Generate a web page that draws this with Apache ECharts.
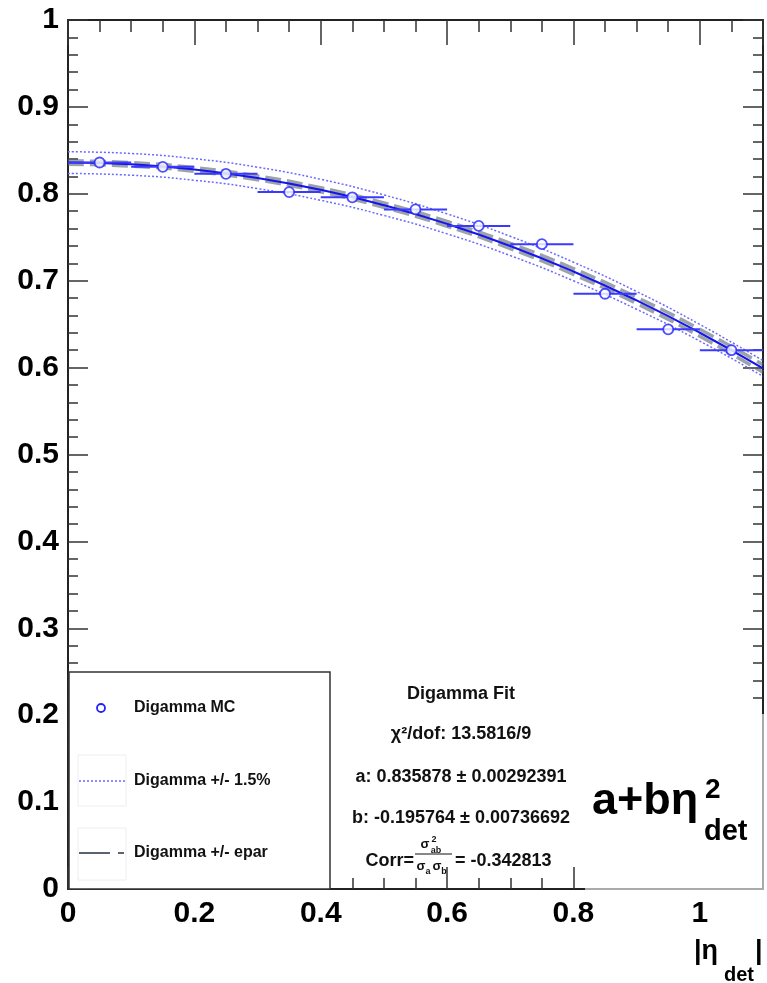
<!DOCTYPE html>
<html>
<head>
<meta charset="utf-8">
<script src="https://cdn.jsdelivr.net/npm/echarts@6/dist/echarts.min.js"></script>
<style>
html, body { margin: 0; padding: 0; background: #fff; }
#main { width: 767px; height: 983px; }
</style>
</head>
<body>
<div id="main"></div>
<script>
// measured points (Digamma MC), bin centres in |eta_det|
var etaBins = [0.05, 0.15, 0.25, 0.35, 0.45, 0.55, 0.65, 0.75, 0.85, 0.95, 1.05];
var mcResponse = [0.836, 0.831, 0.823, 0.802, 0.796, 0.782, 0.763, 0.742, 0.685, 0.644, 0.620];
var binHalfWidth = [0.05, 0.05, 0.05, 0.05, 0.05, 0.05, 0.05, 0.05, 0.05, 0.05, 0.05];

// fit curves at these eta values
var etaGrid = [0, 0.1, 0.2, 0.3, 0.4, 0.5, 0.6, 0.7, 0.8, 0.9, 1.0, 1.1];
var fitCurve = [0.8359, 0.8339, 0.8280, 0.8183, 0.8046, 0.7869, 0.7654, 0.7400, 0.7106, 0.6773, 0.6401, 0.5990];
var fitUp15 = [0.8484, 0.8464, 0.8404, 0.8306, 0.8167, 0.7987, 0.7769, 0.7511, 0.7213, 0.6875, 0.6497, 0.6080];
var fitDn15 = [0.8234, 0.8214, 0.8156, 0.8060, 0.7925, 0.7751, 0.7539, 0.7289, 0.6999, 0.6671, 0.6305, 0.5900];
var fitUpEpar = [0.8379, 0.8359, 0.8301, 0.8205, 0.8069, 0.7894, 0.7681, 0.7430, 0.7139, 0.6809, 0.6441, 0.6034];
var fitDnEpar = [0.8339, 0.8319, 0.8259, 0.8161, 0.8023, 0.7844, 0.7627, 0.7370, 0.7073, 0.6737, 0.6361, 0.5946];

var legendNames = ['Digamma MC', 'Digamma +/- 1.5%', 'Digamma +/- epar'];
var fitLines = ['Digamma Fit', 'χ²/dof: 13.5816/9', 'a: 0.835878 ± 0.00292391', 'b: -0.195764 ± 0.00736692'];
var corrValue = '= -0.342813';

var FONT = '"Liberation Sans", Arial, sans-serif';

function pairs(xs, ys) {
    var out = [];
    for (var i = 0; i < xs.length; i++) out.push([xs[i], ys[i]]);
    return out;
}
var errData = [];
for (var i = 0; i < etaBins.length; i++) errData.push([etaBins[i], mcResponse[i], binHalfWidth[i]]);

// grid 0 carries the major ticks + labels, grid 1 (same rect) the minor ticks
function xAx(grid, pos, interval, len, withLabel) {
    return {
        gridIndex: grid, type: 'value', position: pos, min: 0, max: 1.1, interval: interval,
        axisLine: { show: grid === 0, onZero: false, lineStyle: { color: '#222', width: 2 } },
        axisTick: { inside: true, length: len, lineStyle: { color: '#333', width: 1.5 } },
        axisLabel: { show: withLabel, showMaxLabel: false, margin: 10, fontSize: 30, fontWeight: 'bold', color: '#000', fontFamily: FONT },
        splitLine: { show: false }
    };
}
function yAx(grid, pos, interval, len, withLabel) {
    return {
        gridIndex: grid, type: 'value', position: pos, min: 0, max: 1, interval: interval,
        axisLine: { show: grid === 0, onZero: false, lineStyle: { color: '#222', width: 2 } },
        axisTick: { inside: true, length: len, lineStyle: { color: '#333', width: 1.5 } },
        axisLabel: { show: withLabel, margin: 9, fontSize: 30, fontWeight: 'bold', color: '#000', fontFamily: FONT },
        splitLine: { show: false }
    };
}

var chart = echarts.init(document.getElementById('main'));

var gfx = [];
// legend box
gfx.push({ type: 'rect', z: 100, shape: { x: 69, y: 672, width: 261, height: 217 }, style: { fill: '#fff', stroke: '#333', lineWidth: 1.5 } });
gfx.push({ type: 'circle', z: 101, shape: { cx: 101, cy: 708, r: 4 }, style: { fill: '#fff', stroke: '#2222ff', lineWidth: 1.8 } });
gfx.push({ type: 'rect', z: 101, shape: { x: 78, y: 755, width: 48, height: 51 }, style: { fill: 'none', stroke: '#eee', lineWidth: 1 } });
gfx.push({ type: 'line', z: 101, shape: { x1: 79, y1: 781, x2: 125, y2: 781 }, style: { stroke: '#6a6aff', lineWidth: 1.5, lineDash: [2, 2] } });
gfx.push({ type: 'rect', z: 101, shape: { x: 78, y: 828, width: 48, height: 52 }, style: { fill: 'none', stroke: '#eee', lineWidth: 1 } });
gfx.push({ type: 'line', z: 101, shape: { x1: 79, y1: 853, x2: 124, y2: 853 }, style: { stroke: '#5a646e', lineWidth: 2, lineDash: [31, 8] } });
var legY = [708, 781, 853];
for (var k = 0; k < legendNames.length; k++) {
    gfx.push({ type: 'text', z: 101, x: 134, y: legY[k], style: { text: legendNames[k], font: 'bold 16px ' + FONT, fill: '#111', verticalAlign: 'middle' } });
}
// fit summary
var fitY = [694, 734, 777, 818];
for (var k = 0; k < fitLines.length; k++) {
    gfx.push({ type: 'text', z: 101, x: 461, y: fitY[k], style: { text: fitLines[k], font: 'bold 18px ' + FONT, fill: '#111', align: 'center', verticalAlign: 'middle' } });
}
gfx.push({ type: 'text', z: 101, x: 414, y: 861, style: { text: 'Corr=', font: 'bold 18px ' + FONT, fill: '#111', align: 'right', verticalAlign: 'middle' } });
gfx.push({ type: 'text', z: 101, x: 425, y: 844, style: { text: 'σ', font: 'bold 13px ' + FONT, fill: '#111', align: 'center', verticalAlign: 'middle' } });
gfx.push({ type: 'text', z: 101, x: 434, y: 840, style: { text: '2', font: 'bold 9px ' + FONT, fill: '#111', align: 'center', verticalAlign: 'middle' } });
gfx.push({ type: 'text', z: 101, x: 436, y: 851, style: { text: 'ab', font: 'bold 9px ' + FONT, fill: '#111', align: 'center', verticalAlign: 'middle' } });
gfx.push({ type: 'line', z: 101, shape: { x1: 415, y1: 854, x2: 452, y2: 854 }, style: { stroke: '#111', lineWidth: 1 } });
gfx.push({ type: 'text', z: 101, x: 421, y: 866, style: { text: 'σ', font: 'bold 13px ' + FONT, fill: '#111', align: 'center', verticalAlign: 'middle' } });
gfx.push({ type: 'text', z: 101, x: 428, y: 872, style: { text: 'a', font: 'bold 9px ' + FONT, fill: '#111', align: 'center', verticalAlign: 'middle' } });
gfx.push({ type: 'text', z: 101, x: 437, y: 866, style: { text: 'σ', font: 'bold 13px ' + FONT, fill: '#111', align: 'center', verticalAlign: 'middle' } });
gfx.push({ type: 'text', z: 101, x: 444, y: 872, style: { text: 'b', font: 'bold 9px ' + FONT, fill: '#111', align: 'center', verticalAlign: 'middle' } });
gfx.push({ type: 'text', z: 101, x: 455, y: 861, style: { text: corrValue, font: 'bold 18px ' + FONT, fill: '#111', verticalAlign: 'middle' } });
// formula box
gfx.push({ type: 'rect', z: 100, shape: { x: 585, y: 714, width: 177, height: 174 }, style: { fill: '#fff' } });
gfx.push({ type: 'polyline', z: 101, shape: { points: [[763, 714], [763, 889], [585, 889]] }, style: { stroke: '#aaa', lineWidth: 2, fill: 'none' } });
gfx.push({ type: 'text', z: 101, x: 592, y: 802, style: { text: 'a+bη', font: 'bold 45px ' + FONT, fill: '#000', verticalAlign: 'middle' } });
gfx.push({ type: 'text', z: 101, x: 705, y: 790, style: { text: '2', font: 'bold 28px ' + FONT, fill: '#000', verticalAlign: 'middle' } });
gfx.push({ type: 'text', z: 101, x: 704, y: 832, style: { text: 'det', font: 'bold 29px ' + FONT, fill: '#000', verticalAlign: 'middle' } });
// axis title |eta_det|
gfx.push({ type: 'text', z: 101, x: 694, y: 952, style: { text: '|η', font: 'bold 27px ' + FONT, fill: '#000', verticalAlign: 'middle' } });
gfx.push({ type: 'text', z: 101, x: 724, y: 975, style: { text: 'det', font: 'bold 20px ' + FONT, fill: '#000', verticalAlign: 'middle' } });
gfx.push({ type: 'text', z: 101, x: 755, y: 952, style: { text: '|', font: 'bold 27px ' + FONT, fill: '#000', verticalAlign: 'middle' } });

var gridRect = { left: 68, top: 20, right: 4, bottom: 94, containLabel: false };
var option = {
    animation: false,
    backgroundColor: '#fff',
    grid: [gridRect, gridRect],
    xAxis: [
        xAx(0, 'bottom', 0.2, 22, true),
        xAx(0, 'top', 0.2, 25, false),
        xAx(1, 'bottom', 0.05, 11, false),
        xAx(1, 'top', 0.05, 12, false)
    ],
    yAxis: [
        yAx(0, 'left', 0.1, 20, true),
        yAx(0, 'right', 0.1, 20, false),
        yAx(1, 'left', 0.02, 10, false),
        yAx(1, 'right', 0.02, 10, false)
    ],
    series: [
        {
            name: legendNames[1], type: 'line', data: pairs(etaGrid, fitUp15), smooth: true, showSymbol: false,
            lineStyle: { color: '#6a6aff', width: 1.5, type: [2, 2] }, z: 2
        },
        {
            name: legendNames[1], type: 'line', data: pairs(etaGrid, fitDn15), smooth: true, showSymbol: false,
            lineStyle: { color: '#6a6aff', width: 1.5, type: [2, 2] }, z: 2
        },
        {
            name: legendNames[2], type: 'line', data: pairs(etaGrid, fitUpEpar), smooth: true, showSymbol: false,
            lineStyle: { color: '#5a646e', width: 3.5, type: [16, 6], opacity: 0.6 }, z: 3
        },
        {
            name: legendNames[2], type: 'line', data: pairs(etaGrid, fitDnEpar), smooth: true, showSymbol: false,
            lineStyle: { color: '#5a646e', width: 3.5, type: [16, 6], opacity: 0.6 }, z: 3
        },
        {
            name: 'fit', type: 'line', data: pairs(etaGrid, fitCurve), smooth: true, showSymbol: false,
            lineStyle: { color: '#1414ee', width: 2 }, z: 4
        },
        {
            name: 'xerr', type: 'custom', data: errData, z: 5,
            renderItem: function (params, api) {
                var p0 = api.coord([api.value(0) - api.value(2), api.value(1)]);
                var p1 = api.coord([api.value(0) + api.value(2), api.value(1)]);
                return { type: 'line', shape: { x1: p0[0], y1: p0[1], x2: p1[0], y2: p1[1] }, style: { stroke: '#3a3aff', lineWidth: 2 } };
            }
        },
        {
            name: legendNames[0], type: 'scatter', data: pairs(etaBins, mcResponse), symbol: 'circle', symbolSize: 10,
            itemStyle: { color: '#fff', borderColor: '#2222ff', borderWidth: 1.8 }, z: 6
        }
    ],
    graphic: gfx
};
chart.setOption(option);
</script>
</body>
</html>
